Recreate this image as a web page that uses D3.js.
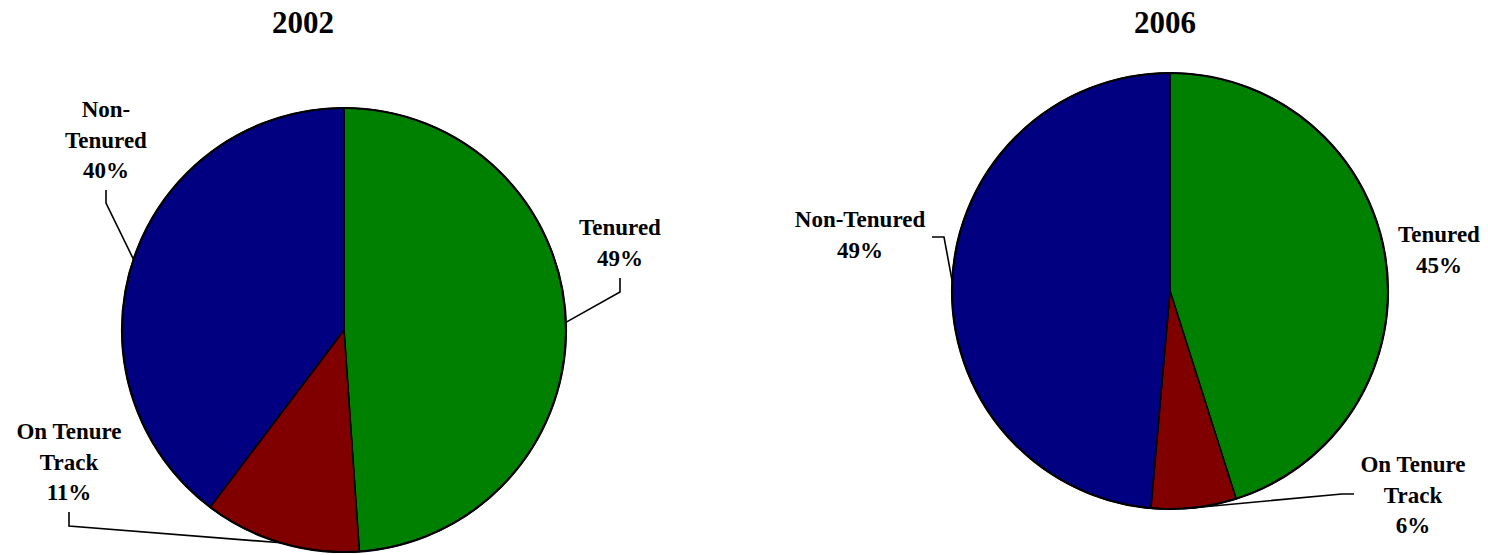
<!DOCTYPE html>
<html>
<head>
<meta charset="utf-8">
<script src="https://cdn.jsdelivr.net/npm/d3@7/dist/d3.min.js"></script>
<style>
  html, body { margin: 0; padding: 0; background: #ffffff; }
  svg { display: block; }
  text { font-family: "Times New Roman", "Liberation Serif", serif; font-weight: bold; fill: #000; }
</style>
</head>
<body>
<svg id="chart" width="1488" height="555"></svg>
<script>
// ---- data ----
const years = ["2002", "2006"];
const categories = ["Tenured", "On Tenure Track", "Non-Tenured"];
const values2002 = [48.9, 11.4, 39.7];
const values2006 = [45.1, 6.3, 48.6];
const labelLines2002 = [["Tenured"], ["On Tenure", "Track"], ["Non-", "Tenured"]];
const labelLines2006 = [["Tenured"], ["On Tenure", "Track"], ["Non-Tenured"]];
const colors = ["#008000", "#800000", "#000080"];

// ---- layout (positions only) ----
const layout = [
  {
    cx: 344, cy: 330, r: 222, titleX: 303,
    labels: [
      { x: 620, y: 235, leader: [[620, 278], [620, 292]] },
      { x: 69, y: 439, leader: [[69, 512], [69, 526]] },
      { x: 106, y: 117, leader: [[106, 190], [106, 203]] }
    ]
  },
  {
    cx: 1170, cy: 291, r: 218, titleX: 1165,
    labels: [
      { x: 1439, y: 242, leader: null },
      { x: 1413, y: 472, leader: [[1354, 494], [1342, 494]] },
      { x: 860, y: 227, leader: [[932, 237], [944, 237]] }
    ]
  }
];

const series = [values2002, values2006];
const lines = [labelLines2002, labelLines2006];
const svg = d3.select("#chart");
const lineH = 30.5;

years.forEach((yr, i) => {
  const L = layout[i];
  const g = svg.append("g");

  g.append("text")
    .attr("x", L.titleX).attr("y", 33)
    .attr("text-anchor", "middle")
    .style("font-size", "31px")
    .text(yr);

  const pie = d3.pie().sort(null).value(d => d)(series[i]);
  const arc = d3.arc().innerRadius(0).outerRadius(L.r);
  const edge = d3.arc().innerRadius(L.r).outerRadius(L.r);

  const pg = g.append("g").attr("transform", `translate(${L.cx},${L.cy})`);
  pg.selectAll("path.slice")
    .data(pie)
    .join("path")
    .attr("class", "slice")
    .attr("d", arc)
    .attr("fill", (d, j) => colors[j])
    .attr("stroke", "#000")
    .attr("stroke-width", 1.6)
    .attr("stroke-linejoin", "round");
  pg.append("circle").attr("r", L.r).attr("fill", "none")
    .attr("stroke", "#000").attr("stroke-width", 2.2);

  pie.forEach((d, j) => {
    const lab = L.labels[j];
    const pct = Math.round(d.data) + "%";
    const txtLines = lines[i][j].concat([pct]);
    const t = g.append("text")
      .attr("text-anchor", "middle")
      .style("font-size", "23px");
    txtLines.forEach((s, k) => {
      t.append("tspan").attr("x", lab.x).attr("y", lab.y + k * lineH).text(s);
    });
    if (lab.leader) {
      const c = edge.centroid(d);
      const end = [L.cx + c[0], L.cy + c[1]];
      const pts = lab.leader.concat([end]);
      g.append("path")
        .attr("d", d3.line()(pts))
        .attr("fill", "none")
        .attr("stroke", "#000")
        .attr("stroke-width", 1.6);
    }
  });
});
</script>
</body>
</html>
